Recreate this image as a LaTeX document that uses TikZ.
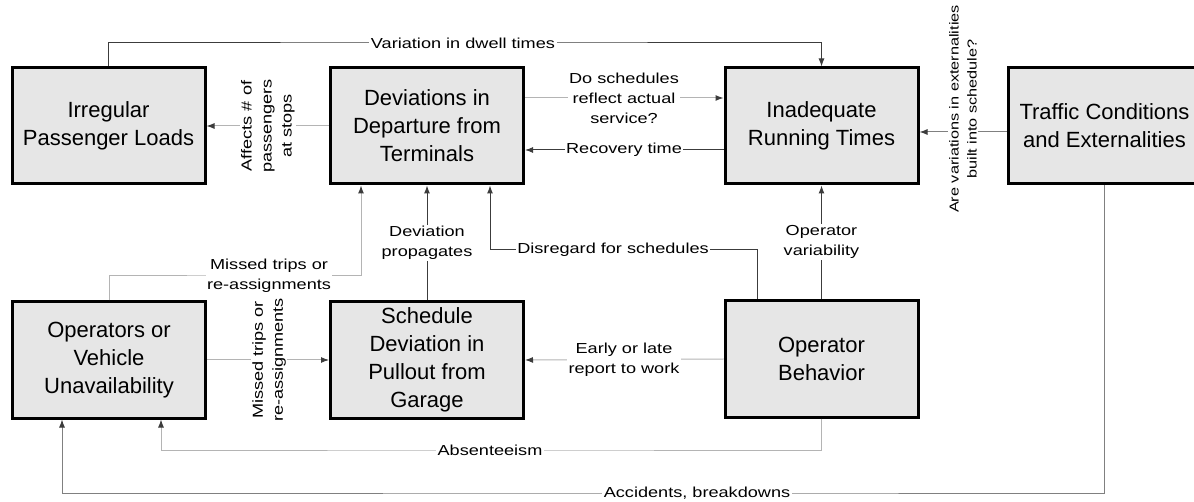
\documentclass[tikz,border=0pt]{standalone}
\usepackage{fontspec}
\setmainfont{Liberation Sans}
\newfontfamily\lblfont[FakeStretch=1.25]{Liberation Sans}
\usetikzlibrary{arrows.meta}
\definecolor{boxfill}{HTML}{E6E6E6}
\definecolor{lnDark}{HTML}{3C3C3C}
\definecolor{lnMid}{HTML}{808080}
\definecolor{lnLight}{HTML}{B4B4B4}

\begin{document}
\begin{tikzpicture}[x=1pt,y=-1pt,
  box/.style={draw=black,line width=3pt,fill=boxfill,minimum width=193pt,
    minimum height=116pt,inner sep=0pt,align=center,
    font=\fontsize{22}{28}\selectfont},
  lbl/.style={fill=white,inner sep=1.5pt,align=center,
    font=\lblfont\fontsize{14.5}{20}\selectfont},
  arrowtip/.style={-{Latex[length=8pt,width=6pt,color=lnDark]}},
  dk/.style={draw=lnDark,line width=1pt,arrowtip},
  md/.style={draw=lnMid,line width=1pt,arrowtip},
  lt/.style={draw=lnLight,line width=1pt,arrowtip}]

\useasboundingbox (0,0) rectangle (1194,502);
\clip (0,0) rectangle (1194,502);

% boxes
\node[box] (irr)   at (108.5,126) {Irregular\\Passenger Loads};
\node[box] (dev)   at (427,126)   {Deviations in\\Departure from\\Terminals};
\node[box] (inad)  at (821.5,126) {Inadequate\\Running Times};
\node[box] (traf)  at (1104.5,126) {Traffic Conditions\\and Externalities};
\node[box] (opv)   at (109,360)   {Operators or\\Vehicle\\Unavailability};
\node[box] (sched) at (427,360)   {Schedule\\Deviation in\\Pullout from\\Garage};
\node[box] (beh)   at (821.5,359) {Operator\\Behavior};

% bend points of the routed connectors
\coordinate (cVar) at (463,43);
\coordinate (cAcc) at (697,493);
\coordinate (cAbs) at (490,450);
\coordinate (cMiss) at (269,276);
\coordinate (cDis) at (613,250);

% connectors
\draw[dk] (irr.north) |- (cVar) -| (inad.north);
\draw[lt] (dev.west) -- (irr.east);
\draw[lt] ([yshift=28pt]dev.east) -- ([yshift=28pt]inad.west);
\draw[dk] ([yshift=-24pt]inad.west) -- ([yshift=-24pt]dev.east);
\draw[md] ([yshift=-6pt]traf.west) -- ([yshift=-6pt]inad.east);
\draw[md] (traf.south) |- (cAcc) -| ([xshift=-47pt]opv.south);
\draw[lt] (beh.south) |- (cAbs) -| ([xshift=52pt]opv.south);
\draw[lt] (beh.west) -- (sched.east);
\draw[lt] (opv.east) -- (sched.west);
\draw[lt] (opv.north) |- (cMiss) -| ([xshift=-66pt]dev.south);
\draw[dk] (sched.north) -- (dev.south);
\draw[dk] ([xshift=-64pt]beh.north) |- (cDis) -| ([xshift=63pt]dev.south);
\draw[dk] (beh.north) -- (inad.south);

% connector labels
\node[lbl] (lVar) at (cVar) {Variation in dwell times};
\node[lbl,rotate=90] (lAff) at (268,126) {Affects \# of\\passengers\\at stops};
\node[lbl] (lDo) at (624,98) {Do schedules\\reflect actual\\service?};
\node[lbl] (lRec) at (624,150) {Recovery time};
\node[lbl,rotate=90,font=\lblfont\fontsize{13}{18}\selectfont] (lExt)
  at (963,109) {Are variations in externalities\\built into schedule?};
\node[lbl] (lAcc) at (cAcc) {Accidents, breakdowns};
\node[lbl] (lAbs) at (cAbs) {Absenteeism};
\node[lbl] (lEarly) at (624,360) {Early or late\\report to work};
\node[lbl,rotate=90] (lMissV) at (269,360) {Missed trips or\\re-assignments};
\node[lbl] (lMiss) at (cMiss) {Missed trips or\\re-assignments};
\node[lbl] (lProp) at (427,243) {Deviation\\propagates};
\node[lbl] (lDis) at (cDis) {Disregard for schedules};
\node[lbl] (lOpv) at (821.5,242) {Operator\\variability};
\end{tikzpicture}
\end{document}
